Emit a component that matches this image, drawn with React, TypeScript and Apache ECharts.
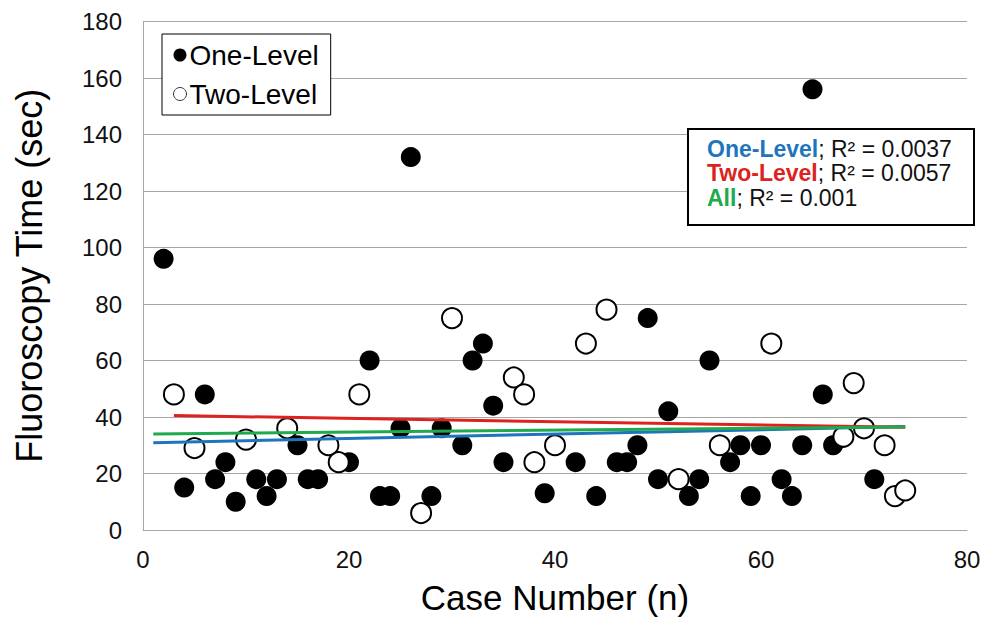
import React, { useEffect, useRef } from "react";
import * as echarts from "echarts";

const oneLevel: [number, number][] = [
  [2, 96], [4, 15], [6, 48], [7, 18], [8, 24], [9, 10], [11, 18], [12, 12], [13, 18],
  [15, 30], [16, 18], [17, 18], [20, 24], [22, 60], [23, 12], [24, 12], [25, 36], [26, 132],
  [28, 12], [29, 36], [31, 30], [32, 60], [33, 66], [34, 44], [35, 24], [39, 13], [42, 24],
  [44, 12], [46, 24], [47, 24], [48, 30], [49, 75], [50, 18], [51, 42], [53, 12], [54, 18],
  [55, 60], [57, 24], [58, 30], [59, 12], [60, 30], [62, 18], [63, 12], [64, 30], [65, 156],
  [66, 48], [67, 30], [71, 18],
];

const twoLevel: [number, number][] = [
  [3, 48], [5, 29], [10, 32], [14, 36], [18, 30], [19, 24], [21, 48], [27, 6], [30, 75],
  [36, 54], [37, 48], [38, 24], [40, 30], [43, 66], [45, 78], [52, 18], [56, 30], [61, 66],
  [68, 33], [69, 52], [70, 36], [72, 30], [73, 12], [74, 14],
];

const trendOne: [number, number][] = [[1, 30.9], [74, 36.6]];
const trendTwo: [number, number][] = [[3, 40.5], [74, 36.4]];
const trendAll: [number, number][] = [[1, 34.0], [74, 36.5]];

const r2Labels = [
  { name: "One-Level", value: "0.0037", style: "b" },
  { name: "Two-Level", value: "0.0057", style: "r" },
  { name: "All", value: "0.001", style: "g" },
];

const BLUE = "#1f75bd";
const RED = "#dc2320";
const GREEN = "#21a94d";
const FONT = "'Liberation Sans', Arial, sans-serif";

export default function App() {
  const ref = useRef<HTMLDivElement>(null);
  useEffect(() => {
    if (!ref.current) return;
    const chart = echarts.init(ref.current, undefined, { renderer: "svg" });
    const boxText = r2Labels
      .map((l) => `{${l.style}|${l.name}}{n|; R² = ${l.value}}`)
      .join("\n");
    chart.setOption({
      animation: false,
      textStyle: { fontFamily: FONT },
      grid: { left: 143, right: 32, top: 21.5, bottom: 96, containLabel: false },
      xAxis: {
        type: "value",
        min: 0,
        max: 80,
        interval: 20,
        name: "Case Number (n)",
        nameLocation: "middle",
        nameGap: 50,
        nameTextStyle: { fontSize: 35, color: "#000", fontFamily: FONT },
        axisLine: { show: true, lineStyle: { color: "#a6a6a6", width: 1 } },
        axisTick: { show: false },
        splitLine: { show: false },
        axisLabel: { fontSize: 24, color: "#111", margin: 17, fontFamily: FONT },
      },
      yAxis: {
        type: "value",
        min: 0,
        max: 180,
        interval: 20,
        name: "Fluoroscopy Time (sec)",
        nameLocation: "middle",
        nameGap: 96,
        nameTextStyle: { fontSize: 36, color: "#000", fontFamily: FONT },
        axisLine: { show: true, lineStyle: { color: "#a6a6a6", width: 1 } },
        axisTick: { show: false },
        splitLine: { show: true, lineStyle: { color: "#a6a6a6", width: 1 } },
        axisLabel: { fontSize: 24, color: "#111", margin: 21, fontFamily: FONT },
      },
      legend: {
        orient: "vertical",
        left: 162,
        top: 34,
        padding: [7, 12, 7, 11],
        itemGap: 11,
        itemWidth: 13,
        itemHeight: 13,
        borderColor: "#000",
        borderWidth: 1,
        backgroundColor: "#fff",
        textStyle: { fontSize: 28, color: "#000", fontFamily: FONT, padding: [0, 0, 0, -2] },
        data: [
          { name: "One-Level", icon: "circle", itemStyle: { color: "#000", borderWidth: 0 } },
          {
            name: "Two-Level",
            icon: "circle",
            itemStyle: { color: "#fff", borderColor: "#333", borderWidth: 1 },
          },
        ],
      },
      graphic: [
        {
          type: "rect",
          left: 687,
          top: 128,
          shape: { width: 286, height: 96 },
          style: { fill: "#fff", stroke: "#000", lineWidth: 2 },
          z: 100,
        },
        {
          type: "text",
          left: 707,
          top: 137,
          z: 101,
          style: {
            text: boxText,
            fontFamily: FONT,
            rich: {
              b: { fontSize: 23, fontWeight: "bold", fill: BLUE, lineHeight: 24.5, fontFamily: FONT },
              r: { fontSize: 23, fontWeight: "bold", fill: RED, lineHeight: 24.5, fontFamily: FONT },
              g: { fontSize: 23, fontWeight: "bold", fill: GREEN, lineHeight: 24.5, fontFamily: FONT },
              n: { fontSize: 23, fill: "#111", lineHeight: 24.5, fontFamily: FONT },
            },
          },
        },
      ],
      series: [
        {
          name: "One-Level",
          type: "scatter",
          data: oneLevel,
          symbol: "circle",
          symbolSize: 20,
          itemStyle: { color: "#000", opacity: 1 },
          z: 2,
        },
        {
          name: "Two-Level",
          type: "scatter",
          data: twoLevel,
          symbol: "circle",
          symbolSize: 20,
          itemStyle: { color: "#fff", borderColor: "#000", borderWidth: 2, opacity: 1 },
          z: 3,
        },
        {
          name: "One-Level trend",
          type: "line",
          data: trendOne,
          symbol: "none",
          lineStyle: { color: BLUE, width: 3 },
          z: 4,
        },
        {
          name: "Two-Level trend",
          type: "line",
          data: trendTwo,
          symbol: "none",
          lineStyle: { color: RED, width: 3 },
          z: 4,
        },
        {
          name: "All trend",
          type: "line",
          data: trendAll,
          symbol: "none",
          lineStyle: { color: GREEN, width: 3 },
          z: 5,
        },
      ],
    });
    return () => chart.dispose();
  }, []);
  return <div ref={ref} style={{ width: 999, height: 626, position: "absolute", left: 0, top: 0 }} />;
}
